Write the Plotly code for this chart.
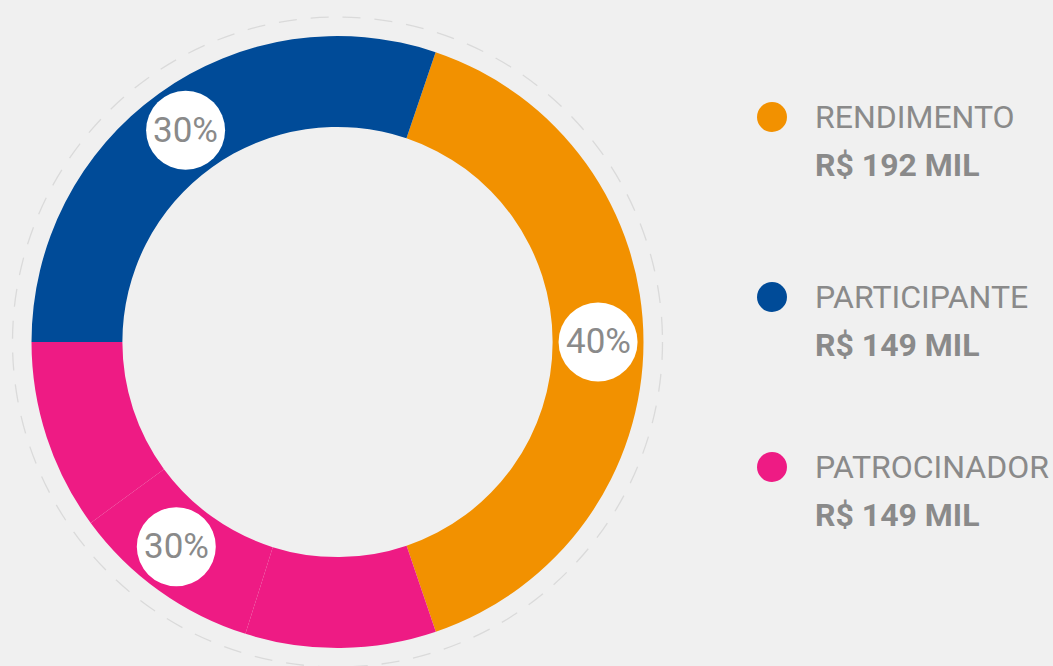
import math
import plotly.graph_objects as go

# ---- data ----
groups = ["RENDIMENTO", "PARTICIPANTE", "PATROCINADOR"]
amounts = ["R$ 192 MIL", "R$ 149 MIL", "R$ 149 MIL"]
percents = [40, 30, 30]
colors = {"RENDIMENTO": "#F29100", "PARTICIPANTE": "#004B98", "PATROCINADOR": "#EE1B84"}

# slices drawn in order (clockwise), pink is made of three pieces
slice_groups = ["RENDIMENTO", "PATROCINADOR", "PATROCINADOR", "PATROCINADOR", "PARTICIPANTE"]
slice_values = [39.6, 10.07, 10.07, 10.06, 30.2]
start_angle = 18.7  # degrees clockwise from 12 o'clock
label_nudge = {"RENDIMENTO": 0, "PARTICIPANTE": 0, "PATROCINADOR": 2.6}  # degrees

W, H = 1053, 666
cx_px, cy_px, R_px = 337.5, 342, 306
hole = 0.703

fig = go.Figure()
fig.add_trace(go.Pie(
    values=slice_values,
    labels=[f"s{i}" for i in range(len(slice_values))],
    marker=dict(colors=[colors[g] for g in slice_groups], line=dict(width=0)),
    sort=False, direction="clockwise", rotation=start_angle,
    hole=hole, textinfo="none", hoverinfo="skip", showlegend=False,
    domain=dict(x=[(cx_px - R_px) / W, (cx_px + R_px) / W],
                y=[1 - (cy_px + R_px) / H, 1 - (cy_px - R_px) / H]),
))

def px2paper(x, y):
    return x / W, 1 - y / H

shapes = []
annotations = []

# dashed outer circle
rd = 325
x0, y0 = px2paper(cx_px - rd, cy_px + rd)
x1, y1 = px2paper(cx_px + rd, cy_px - rd)
shapes.append(dict(type="circle", xref="paper", yref="paper", x0=x0, y0=y0, x1=x1, y1=y1,
                   line=dict(color="#dadada", width=1.3, dash="18px,14px"), layer="below"))

# percentage bubbles at group midpoints
total = sum(slice_values)
ang = start_angle
group_span = {}
for g, v in zip(slice_groups, slice_values):
    a0 = ang
    ang += v / total * 360
    if g in group_span:
        group_span[g][1] = ang
    else:
        group_span[g] = [a0, ang]

r_lab = (hole + 1) / 2 * R_px
rb = 39.5
for g, p in zip(groups, percents):
    a0, a1 = group_span[g]
    mid = math.radians((a0 + a1) / 2 + label_nudge[g])
    lx = cx_px + r_lab * math.sin(mid)
    ly = cy_px - r_lab * math.cos(mid)
    bx0, by0 = px2paper(lx - rb, ly + rb)
    bx1, by1 = px2paper(lx + rb, ly - rb)
    shapes.append(dict(type="circle", xref="paper", yref="paper", x0=bx0, y0=by0, x1=bx1, y1=by1,
                       fillcolor="white", line=dict(width=0)))
    ax, ay = px2paper(lx, ly)
    annotations.append(dict(x=ax, y=ay, xref="paper", yref="paper", text=f"{p}%", showarrow=False,
                            font=dict(family="Roboto", size=35, color="#8a8a8a"),
                            xanchor="center", yanchor="middle"))

# legend
leg_y = [117, 297, 467]
for g, amt, yy in zip(groups, amounts, leg_y):
    dx0, dy0 = px2paper(772 - 15, yy + 15)
    dx1, dy1 = px2paper(772 + 15, yy - 15)
    shapes.append(dict(type="circle", xref="paper", yref="paper", x0=dx0, y0=dy0, x1=dx1, y1=dy1,
                       fillcolor=colors[g], line=dict(width=0)))
    tx, ty = px2paper(813, yy)
    annotations.append(dict(x=tx, y=ty, xref="paper", yref="paper", text=g, showarrow=False,
                            font=dict(family="Roboto", size=32, color="#8a8a8a"),
                            xanchor="left", yanchor="middle"))
    tx, ty = px2paper(813, yy + 48)
    annotations.append(dict(x=tx, y=ty, xref="paper", yref="paper", text=f"<b>{amt}</b>", showarrow=False,
                            font=dict(family="Roboto", size=32, color="#8a8a8a"),
                            xanchor="left", yanchor="middle"))

fig.update_layout(
    width=W, height=H,
    margin=dict(l=0, r=0, t=0, b=0),
    paper_bgcolor="#f0f0f0", plot_bgcolor="#f0f0f0",
    shapes=shapes, annotations=annotations,
)
fig.write_html("out.html", config={"displayModeBar": False},
               post_script="document.body.style.margin='0';document.body.style.background='#f0f0f0';document.body.style.overflow='hidden';")
